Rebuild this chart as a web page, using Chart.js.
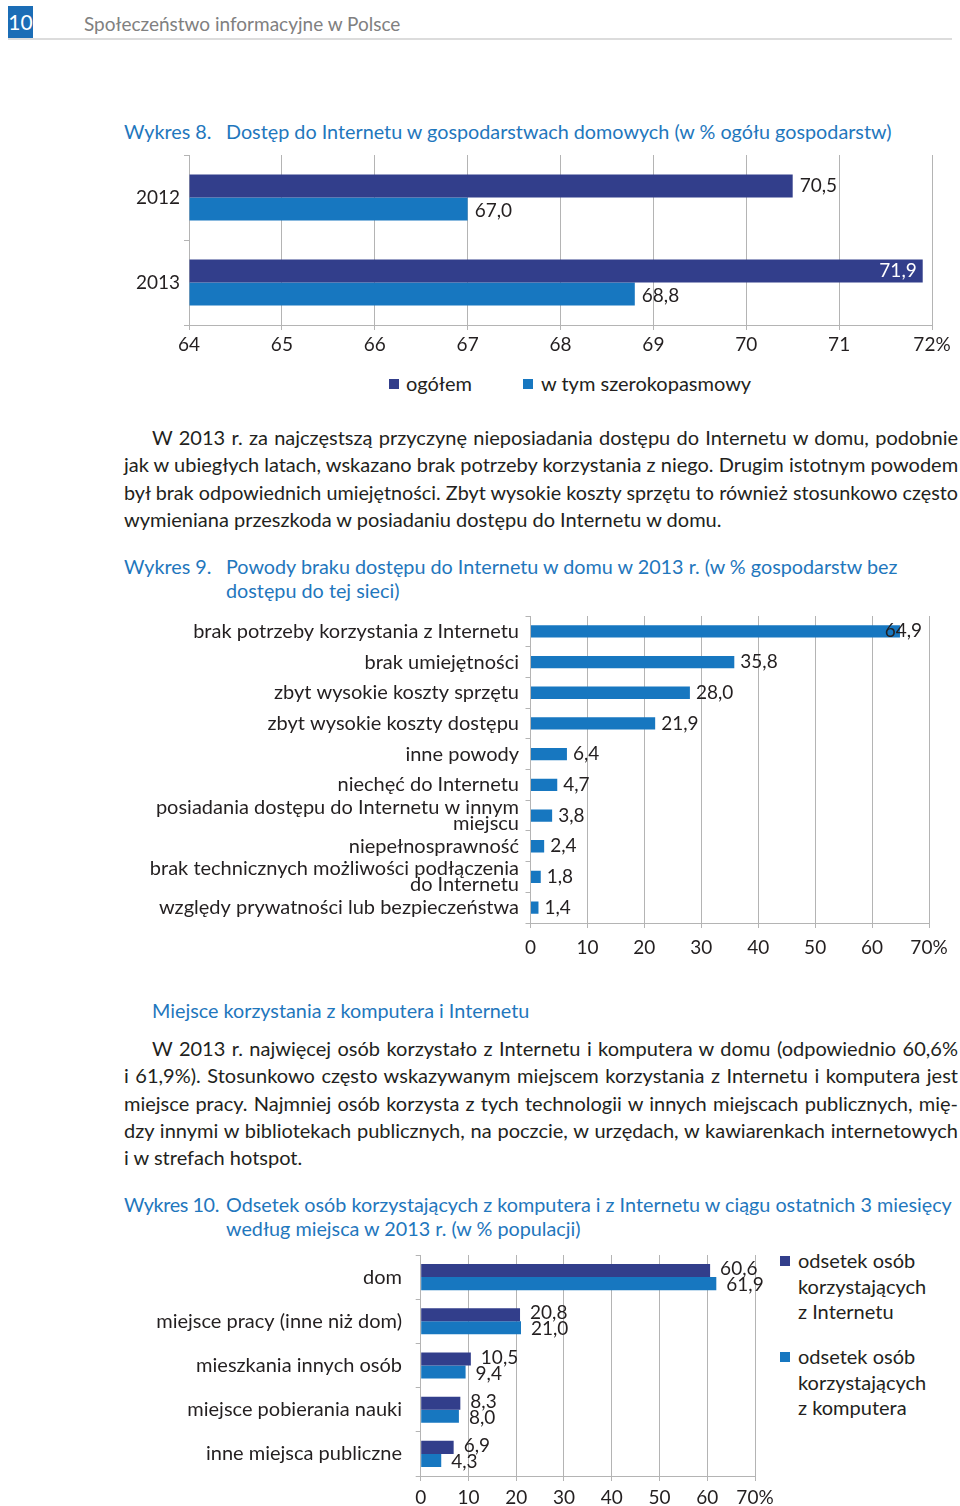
<!DOCTYPE html>
<html>
  <head>
    <meta charset="utf-8">
    <script src="https://cdn.jsdelivr.net/npm/chart.js@4/dist/chart.umd.min.js"></script>
    <style>
      body {
        margin: 0;
        width: 960px;
        height: 1506px;
        position: relative;
        background: white;
        font-family: Lato, sans-serif;
        color: #231f20;
        overflow: hidden;
      }
      .abs { position: absolute; white-space: nowrap; }
      .blue { color: #1f77bd; font-size: 19.8px; }
      .line { position: absolute; font-size: 20px; height: 27px; line-height: 27px; white-space: nowrap; }
      .just { text-align: justify; text-align-last: justify; }
      .sq { position: absolute; width: 10px; height: 10px; }
      .leg { position: absolute; font-size: 20px; line-height: 25.5px; white-space: nowrap; }
      canvas { position: absolute; }
    </style>
  </head>
  <body>
    <!-- naglowek strony -->
    <div class="abs" style="left:8px;top:6px;width:25px;height:32px;background:#1b6db6;color:#fff;font-size:21px;line-height:32px;text-align:center;">10</div>
    <div class="abs" style="left:84px;top:12px;font-size:19px;color:#808080;">Społeczeństwo informacyjne w Polsce</div>
    <div class="abs" style="left:8px;top:38px;width:944px;height:2px;background:#dcdcdc;"></div>

    <!-- wykres 8 -->
    <div class="abs blue" style="left:124px;top:119px;">Wykres 8.</div>
    <div class="abs blue" style="left:226px;top:119px;">Dostęp do Internetu w gospodarstwach domowych (w % ogółu gospodarstw)</div>
    <canvas id="wykres8" width="860" height="240" style="left:100px;top:125px;"></canvas>
    <div class="sq" style="left:389px;top:379px;background:#323e8b;"></div>
    <div class="leg" style="left:406px;top:371px;">ogółem</div>
    <div class="sq" style="left:523px;top:379px;background:#1777c0;"></div>
    <div class="leg" style="left:541px;top:371px;">w tym szerokopasmowy</div>

    <!-- akapit 1 -->
    <div class="line just" style="left:152px;top:424px;width:806px;">W 2013 r. za najczęstszą przyczynę nieposiadania dostępu do Internetu w domu, podobnie</div>
    <div class="line just" style="left:124px;top:451px;width:834px;">jak w ubiegłych latach, wskazano brak potrzeby korzystania z niego. Drugim istotnym powodem</div>
    <div class="line just" style="left:124px;top:479px;width:834px;">był brak odpowiednich umiejętności. Zbyt wysokie koszty sprzętu to również stosunkowo często</div>
    <div class="line" style="left:124px;top:506px;">wymieniana przeszkoda w posiadaniu dostępu do Internetu w domu.</div>

    <!-- wykres 9 -->
    <div class="abs blue" style="left:124px;top:554px;">Wykres 9.</div>
    <div class="abs blue" style="left:226px;top:554px;">Powody braku dostępu do Internetu w domu w 2013 r. (w % gospodarstw bez</div>
    <div class="abs blue" style="left:226px;top:578px;">dostępu do tej sieci)</div>
    <canvas id="wykres9" width="860" height="384" style="left:100px;top:586px;"></canvas>

    <!-- akapit 2 -->
    <div class="abs blue" style="left:152px;top:998px;">Miejsce korzystania z komputera i Internetu</div>
    <div class="line just" style="left:152px;top:1035px;width:806px;">W 2013 r. najwięcej osób korzystało z Internetu i komputera w domu (odpowiednio 60,6%</div>
    <div class="line just" style="left:124px;top:1062px;width:834px;">i 61,9%). Stosunkowo często wskazywanym miejscem korzystania z Internetu i komputera jest</div>
    <div class="line just" style="left:124px;top:1090px;width:834px;">miejsce pracy. Najmniej osób korzysta z tych technologii w innych miejscach publicznych, mię-</div>
    <div class="line just" style="left:124px;top:1117px;width:834px;">dzy innymi w bibliotekach publicznych, na poczcie, w urzędach, w kawiarenkach internetowych</div>
    <div class="line" style="left:124px;top:1144px;">i w strefach hotspot.</div>

    <!-- wykres 10 -->
    <div class="abs blue" style="left:124px;top:1192px;letter-spacing:-0.4px;">Wykres 10.</div>
    <div class="abs blue" style="left:226px;top:1192px;">Odsetek osób korzystających z komputera i z Internetu w ciągu ostatnich 3 miesięcy</div>
    <div class="abs blue" style="left:226px;top:1216px;">według miejsca w 2013 r. (w % populacji)</div>
    <canvas id="wykres10" width="680" height="281" style="left:100px;top:1225px;"></canvas>
    <div class="sq" style="left:780px;top:1256px;background:#323e8b;"></div>
    <div class="leg" style="left:798px;top:1248px;">odsetek osób<br>korzystających<br>z Internetu</div>
    <div class="sq" style="left:780px;top:1352px;background:#1777c0;"></div>
    <div class="leg" style="left:798px;top:1344px;">odsetek osób<br>korzystających<br>z komputera</div>

  <script>
    // dane - wykres 8
    const lata = ['2012', '2013'];
    const ogolem = [70.5, 71.9];
    const szerokopasmowy = [67.0, 68.8];

    // dane - wykres 9
    const powody = [
      'brak potrzeby korzystania z Internetu',
      'brak umiejętności',
      'zbyt wysokie koszty sprzętu',
      'zbyt wysokie koszty dostępu',
      'inne powody',
      'niechęć do Internetu',
      ['posiadania dostępu do Internetu w innym', 'miejscu'],
      'niepełnosprawność',
      ['brak technicznych możliwości podłączenia', 'do Internetu'],
      'względy prywatności lub bezpieczeństwa'
    ];
    const odsetekPowodow = [64.9, 35.8, 28.0, 21.9, 6.4, 4.7, 3.8, 2.4, 1.8, 1.4];

    // dane - wykres 10
    const miejsca = ['dom', 'miejsce pracy (inne niż dom)', 'mieszkania innych osób', 'miejsce pobierania nauki', 'inne miejsca publiczne'];
    const korzystajacyInternet = [60.6, 20.8, 10.5, 8.3, 6.9];
    const korzystajacyKomputer = [61.9, 21.0, 9.4, 8.0, 4.3];

    const granat = '#323e8b';
    const niebieski = '#1777c0';
    const tekst = '#231f20';
    const siatka = '#b4b4b4';

    // dopasowanie justowanych linii, gdyby sie nie miescily
    document.querySelectorAll('.just').forEach(el => {
      let rozmiar = 20;
      while (el.scrollWidth > el.clientWidth && rozmiar > 15) {
        rozmiar -= 0.25;
        el.style.fontSize = rozmiar + 'px';
      }
    });

    Chart.defaults.font.family = 'Lato, sans-serif';
    Chart.defaults.font.size = 19;
    Chart.defaults.color = tekst;

    function fmt(v) {
      return v.toFixed(1).replace('.', ',');
    }

    // etykiety wartosci przy slupkach
    const etykiety = {
      id: 'etykiety',
      afterDatasetsDraw(chart, args, opts) {
        const ctx = chart.ctx;
        const area = chart.chartArea;
        ctx.save();
        ctx.font = '19px Lato, sans-serif';
        ctx.textBaseline = 'middle';
        ctx.textAlign = 'left';
        chart.data.datasets.forEach((ds, i) => {
          chart.getDatasetMeta(i).data.forEach((bar, j) => {
            const txt = fmt(ds.data[j]);
            const w = ctx.measureText(txt).width;
            let x = bar.x + opts.odstep;
            let kolor = tekst;
            if (opts.przytnij && x + w > area.right - 2) {
              if (opts.wewnatrz) {
                x = bar.x - 6 - w;
                kolor = '#fff';
              } else {
                x = area.right - 7 - w;
              }
            }
            ctx.fillStyle = kolor;
            ctx.fillText(txt, x, bar.y + (opts.dy ? opts.dy[i] : 0));
          });
        });
        ctx.restore();
      }
    };

    function osX(min, max, krok, wysokosc, odstep) {
      return {
        min: min,
        max: max,
        ticks: {
          stepSize: krok,
          padding: odstep,
          callback: v => v === max ? v + '%' : String(v)
        },
        grid: { color: siatka, tickLength: 5, drawTicks: true },
        border: { color: siatka },
        afterFit: s => { s.height = wysokosc; }
      };
    }

    function osY(szerokosc, odstep, rozmiar, wysokoscLinii) {
      return {
        ticks: { padding: odstep, autoSkip: false, font: { size: rozmiar, lineHeight: wysokoscLinii || 1.2 } },
        grid: { drawOnChartArea: false, tickLength: 5, color: siatka },
        border: { color: siatka },
        afterFit: s => { s.width = szerokosc; }
      };
    }

    const wspolne = {
      indexAxis: 'y',
      responsive: false,
      animation: false,
      devicePixelRatio: 1,
      plugins: { legend: { display: false }, tooltip: { enabled: false } }
    };

    new Chart(document.getElementById('wykres8'), {
      type: 'bar',
      data: {
        labels: lata,
        datasets: [
          { label: 'ogółem', data: ogolem, backgroundColor: granat, base: 64, categoryPercentage: 0.54, barPercentage: 1 },
          { label: 'w tym szerokopasmowy', data: szerokopasmowy, backgroundColor: niebieski, base: 64, categoryPercentage: 0.54, barPercentage: 1 }
        ]
      },
      options: Object.assign({}, wspolne, {
        layout: { padding: { top: 30, right: 28, bottom: 10, left: 0 } },
        scales: { x: osX(64, 72, 1, 30, 3), y: osY(89, 4, 19) },
        plugins: Object.assign({}, wspolne.plugins, { etykiety: { odstep: 7, wewnatrz: true, przytnij: true, dy: [0, 2] } })
      }),
      plugins: [etykiety]
    });

    new Chart(document.getElementById('wykres9'), {
      type: 'bar',
      data: {
        labels: powody,
        datasets: [
          { label: 'odsetek', data: odsetekPowodow, backgroundColor: niebieski, categoryPercentage: 1, barPercentage: 0.4 }
        ]
      },
      options: Object.assign({}, wspolne, {
        layout: { padding: { top: 30, right: 31, bottom: 7, left: 0 } },
        scales: { x: osX(0, 70, 10, 40, 8), y: osY(430.5, 6.5, 20, 0.8) },
        plugins: Object.assign({}, wspolne.plugins, { etykiety: { odstep: 6, wewnatrz: false, przytnij: true } })
      }),
      plugins: [etykiety]
    });

    new Chart(document.getElementById('wykres10'), {
      type: 'bar',
      data: {
        labels: miejsca,
        datasets: [
          { label: 'odsetek osób korzystających z Internetu', data: korzystajacyInternet, backgroundColor: granat, categoryPercentage: 0.59, barPercentage: 1 },
          { label: 'odsetek osób korzystających z komputera', data: korzystajacyKomputer, backgroundColor: niebieski, categoryPercentage: 0.59, barPercentage: 1 }
        ]
      },
      options: Object.assign({}, wspolne, {
        layout: { padding: { top: 30, right: 25, bottom: 2, left: 0 } },
        scales: { x: osX(0, 70, 10, 28, 5), y: osY(320.7, 13.7, 20) },
        plugins: Object.assign({}, wspolne.plugins, { etykiety: { odstep: 10, wewnatrz: false, przytnij: false, dy: [-1.5, 1.5] } })
      }),
      plugins: [etykiety]
    });
  </script>
  </body>
</html>
